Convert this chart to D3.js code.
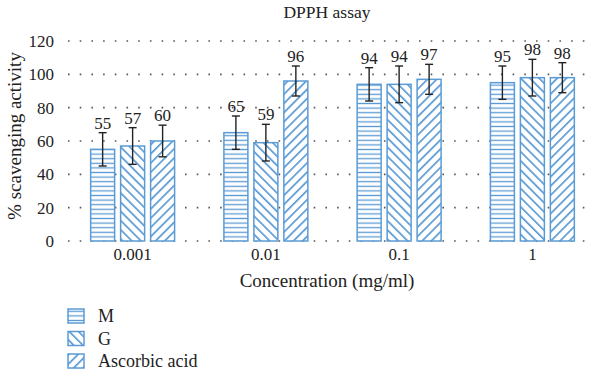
<html>
<head>
	<meta charset="utf-8">
	<script src="https://d3js.org/d3.v7.min.js"></script>
	<style>
		body { margin: 0; background: #fff; }
	</style>
</head>
<body>
	<script type="text/javascript">
		var width = 600
		var height = 375
		var serif = "'Liberation Serif', 'DejaVu Serif', serif"

		// data
		var concentrations = ["0.001", "0.01", "0.1", "1"]
		var seriesNames = ["M", "G", "Ascorbic acid"]
		var valuesM = [55, 65, 94, 95]
		var valuesG = [57, 59, 94, 98]
		var valuesAA = [60, 96, 97, 98]
		var errM = [10, 10, 10, 10]
		var errG = [11, 11, 11, 11]
		var errAA = [9.5, 9, 9, 9]
		var yTicks = [0, 20, 40, 60, 80, 100, 120]

		var allValues = [valuesM, valuesG, valuesAA]
		var allErr = [errM, errG, errAA]
		var rows = []
		concentrations.forEach(function(c, i) {
			seriesNames.forEach(function(s, j) {
				rows.push({conc: c, series: s, idx: j, value: allValues[j][i], err: allErr[j][i]})
			})
		})

		var blue = "#5b9bd5"
		var svg = d3.select("body").append("svg")
			.attr("width", width)
			.attr("height", height)

		// hatch patterns
		var defs = svg.append("defs")
		var pH = defs.append("pattern").attr("id", "p0").attr("patternUnits", "userSpaceOnUse")
			.attr("width", 8).attr("height", 4.6)
		pH.append("rect").attr("width", 8).attr("height", 4.6).attr("fill", "#fff")
		pH.append("line").attr("x1", 0).attr("x2", 8).attr("y1", 2.3).attr("y2", 2.3)
			.attr("stroke", blue).attr("stroke-width", 1.3)

		function diag(id, angle) {
			var p = defs.append("pattern").attr("id", id).attr("patternUnits", "userSpaceOnUse")
				.attr("width", 6.5).attr("height", 6.5)
				.attr("patternTransform", "rotate(" + angle + ")")
			p.append("rect").attr("width", 6.5).attr("height", 6.5).attr("fill", "#fff")
			p.append("line").attr("x1", 0).attr("x2", 0).attr("y1", 0).attr("y2", 6.5)
				.attr("stroke", blue).attr("stroke-width", 3.4)
		}
		diag("p1", -45)
		diag("p2", 45)

		var x0 = d3.scaleBand().domain(concentrations).range([66, 599])
			.paddingInner(0.37).paddingOuter(0.185)
		var x1 = d3.scaleBand().domain(seriesNames).range([0, x0.bandwidth()])
			.paddingInner(0.2)
		var y = d3.scaleLinear().domain([0, 120]).range([241, 41])

		// gridlines
		svg.append("g").selectAll("line")
			.data(yTicks)
			.enter().append("line")
			.attr("x1", 68).attr("x2", 592)
			.attr("y1", d => y(d)).attr("y2", d => y(d))
			.attr("stroke", "#555").attr("stroke-width", 1.6)
			.attr("stroke-dasharray", "1.6,10.1")

		// y axis labels
		var y_axis = d3.axisLeft(y).tickValues(yTicks).tickSize(0).tickPadding(0)
		var ga = svg.append("g").attr("transform", "translate(54,0)").call(y_axis)
		ga.select(".domain").remove()
		ga.selectAll("text").style("font-size", "17px").style("font-family", serif).style("fill", "#222")

		// x axis labels
		var x_axis = d3.axisBottom(x0).tickSize(0).tickPadding(0)
		var gx = svg.append("g").attr("transform", "translate(0,247)").call(x_axis)
		gx.select(".domain").remove()
		gx.selectAll("text").style("font-size", "17px").style("font-family", serif).style("fill", "#222").attr("dy", "0.75em")

		// bars
		var g = svg.append("g")
		g.selectAll("rect.bar")
			.data(rows)
			.enter().append("rect")
			.attr("class", "bar")
			.attr("x", d => x0(d.conc) + x1(d.series))
			.attr("y", d => y(d.value))
			.attr("width", x1.bandwidth())
			.attr("height", d => y(0) - y(d.value))
			.attr("fill", d => "url(#p" + d.idx + ")")
			.attr("stroke", blue).attr("stroke-width", 1.5)

		// error bars
		var eb = g.selectAll("g.err").data(rows).enter().append("g")
			.attr("transform", d => "translate(" + (x0(d.conc) + x1(d.series) + x1.bandwidth() / 2) + ",0)")
		eb.append("line").attr("y1", d => y(d.value + d.err)).attr("y2", d => y(d.value - d.err))
			.attr("stroke", "#222").attr("stroke-width", 1.4)
		eb.append("line").attr("x1", -4).attr("x2", 4)
			.attr("y1", d => y(d.value + d.err)).attr("y2", d => y(d.value + d.err))
			.attr("stroke", "#222").attr("stroke-width", 1.4)
		eb.append("line").attr("x1", -4).attr("x2", 4)
			.attr("y1", d => y(d.value - d.err)).attr("y2", d => y(d.value - d.err))
			.attr("stroke", "#222").attr("stroke-width", 1.4)
		eb.append("text")
			.attr("y", d => y(d.value + d.err) - 4)
			.attr("text-anchor", "middle")
			.style("font-size", "17px").style("font-family", serif).style("fill", "#222")
			.text(d => d.value)

		// titles
		svg.append("text").attr("x", 327).attr("y", 18).attr("text-anchor", "middle")
			.style("font-size", "17.5px").style("font-family", serif).style("fill", "#222").text("DPPH assay")
		svg.append("text").attr("x", 327).attr("y", 287).attr("text-anchor", "middle")
			.style("font-size", "19px").style("font-family", serif).style("fill", "#222").text("Concentration (mg/ml)")
		svg.append("text").attr("transform", "translate(21,136) rotate(-90)")
			.attr("text-anchor", "middle")
			.style("font-size", "19px").style("font-family", serif).style("fill", "#222").text("% scavenging activity")

		// legend
		var leg = svg.append("g").selectAll("g").data(seriesNames).enter().append("g")
			.attr("transform", (d, i) => "translate(68," + (309 + i * 22.5) + ")")
		leg.append("rect").attr("width", 16).attr("height", 14)
			.attr("fill", (d, i) => "url(#p" + i + ")")
			.attr("stroke", blue).attr("stroke-width", 1.5)
		leg.append("text").attr("x", 30).attr("y", 13)
			.style("font-size", "18px").style("font-family", serif).style("fill", "#222").text(d => d)
	</script>
</body>
</html>
